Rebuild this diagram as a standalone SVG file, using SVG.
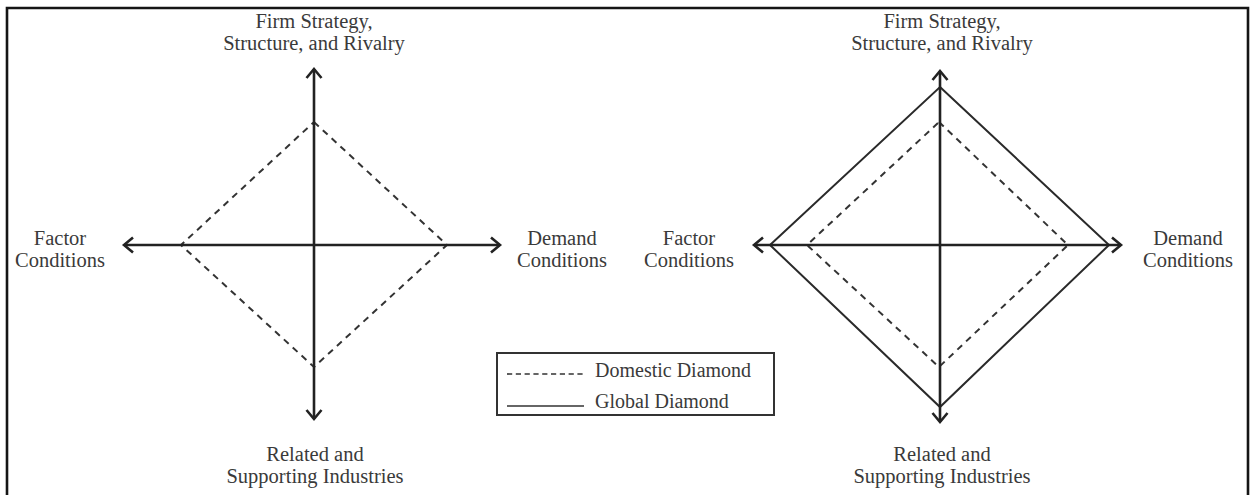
<svg xmlns="http://www.w3.org/2000/svg" width="1250" height="495" viewBox="0 0 1250 495">
  <style>
    .lbl { font-family: "Liberation Serif", "Times New Roman", serif; font-size: 20.5px; fill: #3a3a3a; text-anchor: middle; }
    .leg { font-family: "Liberation Serif", "Times New Roman", serif; font-size: 20px; fill: #3a3a3a; }
    .axis { stroke: #222; stroke-width: 2.6; fill: none; marker-end: url(#chev); }
    .solid { stroke: #2a2a2a; stroke-width: 2; fill: none; stroke-linejoin: miter; }
    .dash { stroke: #333; stroke-width: 2; fill: none; stroke-dasharray: 6.5 5.5; }
  </style>
  <defs>
    <marker id="chev" markerUnits="userSpaceOnUse" markerWidth="24" markerHeight="24" viewBox="-12 -12 24 24" refX="0" refY="0" orient="auto" overflow="visible">
      <polyline points="-9,-7.5 0,0 -9,7.5" fill="none" stroke="#222" stroke-width="2.6" stroke-linejoin="miter"/>
    </marker>
  </defs>

  <rect width="1250" height="495" fill="#fff"/>
  <!-- frame: open at the bottom -->
  <path d="M7,495 V8 H1248 V495" fill="none" stroke="#151515" stroke-width="2.6"/>

  <!-- left: domestic diamond -->
  <g id="domestic-left">
    <polygon class="dash" points="314,122 447,245 314,367 181,245"/>
  </g>

  <!-- right: domestic and global diamonds -->
  <g id="domestic-right">
    <polygon class="dash" points="939,122 1068,245 939,367 807,245"/>
  </g>
  <g id="global-right">
    <polygon class="solid" points="940,87 1109,245 940,407 770,245"/>
  </g>

  <g id="connectors">
    <!-- left axes -->
    <line class="axis" x1="314" y1="245" x2="314" y2="69"/>
    <line class="axis" x1="314" y1="245" x2="314" y2="419"/>
    <line class="axis" x1="314" y1="245" x2="124" y2="245"/>
    <line class="axis" x1="314" y1="245" x2="500" y2="245"/>
    <!-- right axes -->
    <line class="axis" x1="940" y1="245" x2="940" y2="71"/>
    <line class="axis" x1="940" y1="245" x2="940" y2="422"/>
    <line class="axis" x1="940" y1="245" x2="754" y2="245"/>
    <line class="axis" x1="940" y1="245" x2="1121" y2="245"/>
  </g>

  <!-- left labels -->
  <g id="firm-left">
    <text class="lbl" x="314" y="28">Firm Strategy,</text>
    <text class="lbl" x="314" y="50">Structure, and Rivalry</text>
  </g>
  <g id="factor-left">
    <text class="lbl" x="60" y="245">Factor</text>
    <text class="lbl" x="60" y="267">Conditions</text>
  </g>
  <g id="demand-left">
    <text class="lbl" x="562" y="245">Demand</text>
    <text class="lbl" x="562" y="267">Conditions</text>
  </g>
  <g id="related-left">
    <text class="lbl" x="315" y="461">Related and</text>
    <text class="lbl" x="315" y="483">Supporting Industries</text>
  </g>

  <!-- right labels -->
  <g id="firm-right">
    <text class="lbl" x="942" y="28">Firm Strategy,</text>
    <text class="lbl" x="942" y="50">Structure, and Rivalry</text>
  </g>
  <g id="factor-right">
    <text class="lbl" x="689" y="245">Factor</text>
    <text class="lbl" x="689" y="267">Conditions</text>
  </g>
  <g id="demand-right">
    <text class="lbl" x="1188" y="245">Demand</text>
    <text class="lbl" x="1188" y="267">Conditions</text>
  </g>
  <g id="related-right">
    <text class="lbl" x="942" y="461">Related and</text>
    <text class="lbl" x="942" y="483">Supporting Industries</text>
  </g>

  <!-- legend -->
  <g id="legend">
    <rect x="497" y="353" width="277" height="62" fill="#fff" stroke="#333" stroke-width="2"/>
    <line x1="507" y1="374" x2="586" y2="374" stroke="#333" stroke-width="1.6" stroke-dasharray="5.2 3.6"/>
    <text class="leg" x="595" y="377">Domestic Diamond</text>
    <line x1="507" y1="406" x2="584" y2="406" stroke="#333" stroke-width="1.6"/>
    <text class="leg" x="595" y="408">Global Diamond</text>
  </g>
</svg>
